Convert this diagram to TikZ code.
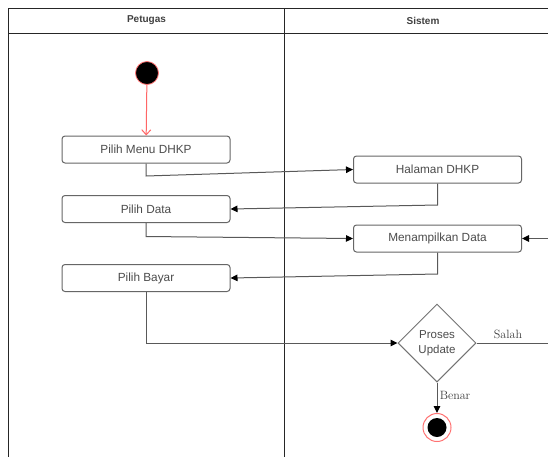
\documentclass[tikz,border=0pt]{standalone}
\usepackage{fontspec}
\newfontfamily\uisans{Liberation Sans}
\usetikzlibrary{shapes.geometric,arrows.meta}
\begin{document}
\begin{tikzpicture}[x=1pt,y=-1pt,
  lane/.style={draw=black!85,line width=1pt},
  act/.style={draw=black!60,line width=1pt,rounded corners=3pt,
    minimum width=168pt,minimum height=27pt,inner sep=0pt,
    font=\uisans\fontsize{11.8}{14}\selectfont,text=black!70},
  decision/.style={diamond,aspect=1,draw=black!55,line width=1pt,
    minimum width=78pt,minimum height=78pt,inner sep=0pt,align=center,
    font=\uisans\fontsize{11.5}{15.5}\selectfont,text=black!70},
  flow/.style={draw=black!65,line width=1pt,
    -{Triangle[length=7pt,width=6.5pt,color=black]}},
  guard/.style={font=\fontsize{12}{14}\selectfont,text=black!75},
  header/.style={font=\uisans\bfseries\fontsize{10}{12}\selectfont,text=black!75}
]
\useasboundingbox (0,0) rectangle (548,456);
\fill[white] (0,0) rectangle (548,456);
\clip (0,0) rectangle (548,456);

% swimlanes
\draw[lane] (8.5,470) -- (8.5,8) -- (561,8) -- (561,470);
\draw[lane] (8.5,33) -- (561,33);
\draw[lane] (284.5,8) -- (284.5,470);
\node[header] (lanePetugas) at (146.5,20.5) {Petugas};
\node[header] (laneSistem) at (423,20.5) {Sistem};

% initial node
\node[circle,fill=black,draw=red!55,line width=0.8pt,minimum size=23pt,inner sep=0pt] (start) at (147,73) {};

% activities
\node[act] (pmd) at (146,149.5) {Pilih Menu DHKP};
\node[act] (hal) at (437.5,169.5) {Halaman DHKP};
\node[act] (pd)  at (146,209) {Pilih Data};
\node[act] (men) at (437.5,238.5) {Menampilkan Data};
\node[act] (pb)  at (146,278) {Pilih Bayar};

% decision
\node[decision] (upd) at (437,343) {Proses\\Update};

% final node
\node[circle,draw=red!55,line width=1pt,minimum size=28pt,inner sep=0pt] (final) at (437,427.5) {};
\node[circle,fill=black,minimum size=19pt,inner sep=0pt] (finalcore) at (final) {};

% control flow
\draw[draw=red!60,line width=1pt,-{Straight Barb[length=5pt,width=9pt]}] (start) -- (pmd);
\coordinate (b1) at (146,176);
\draw[flow] (pmd.south) -- (b1) -- (hal.west);
\coordinate (b2) at (437.5,205);
\draw[flow] (hal.south) -- (b2) -- (pd.east);
\coordinate (b3) at (146,236.5);
\draw[flow] (pd.south) -- (b3) -- (men.west);
\coordinate (b4) at (437.5,274);
\draw[flow] (men.south) -- (b4) -- (pb.east);
\coordinate (b5) at (146,343);
\draw[flow] (pb.south) -- (b5) -- (upd.west);
\coordinate (r1) at (600,343);
\coordinate (r2) at (600,238.5);
\draw[flow] (upd.east) -- (r1) -- (r2) -- (men.east);
\draw[flow] (upd.south) -- (final.north);

% guards
\node[guard] (gSalah) at (508,334) {Salah};
\node[guard] (gBenar) at (455,395) {Benar};
\end{tikzpicture}
\end{document}
